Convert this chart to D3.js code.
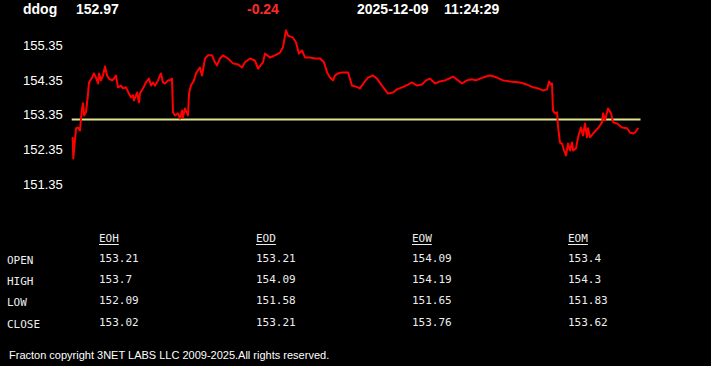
<!DOCTYPE html>
<meta charset="utf-8">
<style>
body { margin: 0; background: #000; }
svg { display: block; background: #000; }
.hdr { font: bold 14px "Liberation Sans", Arial, sans-serif; fill: #fff; }
.yaxis text { font: 13px "Liberation Sans", Arial, sans-serif; fill: #fff; }
.tbl text { font: 11px "DejaVu Sans Mono", "Liberation Mono", monospace; fill: #eee; }
.foot { font: 11px "Liberation Sans", Arial, sans-serif; fill: #fff; }
</style>
<body>
<script src="https://d3js.org/d3.v7.min.js"></script>
<script>
var symbol = 'ddog'
var last = 152.97
var change = -0.24
var stamp = ['2025-12-09', '11:24:29']
var prevClose = 153.21

var yTicks = [155.35, 154.35, 153.35, 152.35, 151.35]

// minutes since open
var mins = [0, 0.4, 1.1, 2.3, 3.6, 5.0, 6.2, 7.1, 7.8, 9.1, 10.3, 11.2, 13.3, 14.6, 16.0, 17.4, 18.1, 19.4, 20.8, 22.2,
    23.6, 24.9, 27.0, 28.4, 29.7, 31.1, 33.2, 34.5, 36.6, 38.6, 40.0, 41.4, 42.1, 44.2, 45.5, 46.2, 48.3, 50.3, 52.4, 53.8,
    55.2, 56.6, 58.6, 60.6, 62.0, 63.4, 65.5, 66.8, 68.2, 68.9, 70.3, 72.3, 73.7, 75.1, 75.7, 77.1, 79.2, 79.9, 81.2, 83.3,
    84.7, 87.4, 88.8, 90.9, 92.9, 95.7, 97.7, 99.1, 101.2, 103.2, 106.7, 110.1, 113.5, 116.3, 118.3, 121.8, 125.2, 127.3, 130.7, 132.1,
    135.5, 138.9, 142.4, 144.4, 146.5, 147.9, 151.3, 153.4, 155.4, 157.5, 159.6, 163.0, 166.4, 169.9, 172.6, 174.7, 176.7, 178.8, 180.2, 182.2,
    185.0, 189.1, 191.8, 194.6, 197.3, 200.1, 202.8, 206.3, 209.0, 212.4, 216.6, 220.0, 222.7, 226.2, 230.3, 233.0, 236.5, 239.9, 242.7, 245.4,
    248.9, 252.3, 255.7, 258.5, 261.2, 264.7, 267.4, 270.8, 274.2, 277.0, 279.8, 283.9, 286.6, 289.4, 291.4, 295.6, 300.4, 307.2, 312.0, 316.2,
    319.6, 323.0, 325.8, 327.2, 328.5, 329.2, 329.9, 331.3, 332.7, 333.3, 334.7, 336.1, 337.5, 338.8, 340.2, 341.6, 343.0, 343.7, 345.7, 347.1,
    349.1, 350.5, 351.9, 353.2, 353.9, 355.3, 357.4, 360.8, 363.6, 364.3, 365.6, 367.7, 369.8, 371.2, 373.9, 377.3, 380.8, 382.8, 384.9, 386.3,
    388.4]
var prices = [152.71, 152.09, 152.41, 152.96, 152.98, 152.90, 153.47, 153.68, 153.33, 153.42, 153.85, 154.28, 154.42, 154.54, 154.42, 154.25, 154.54, 154.34, 154.48, 154.74,
    154.48, 154.39, 154.34, 154.39, 154.48, 154.14, 154.19, 154.11, 154.14, 153.96, 153.85, 153.91, 153.76, 153.99, 153.70, 153.96, 154.11, 154.28, 154.39, 154.19,
    154.28, 154.19, 154.34, 154.54, 154.28, 154.25, 154.34, 154.34, 154.39, 153.42, 153.33, 153.39, 153.24, 153.47, 153.27, 153.53, 153.33, 153.96, 154.19, 154.34,
    154.54, 154.71, 154.48, 154.97, 155.06, 155.06, 154.86, 154.77, 154.97, 155.06, 154.97, 154.83, 154.80, 154.71, 154.86, 154.97, 154.91, 154.68, 154.86, 155.11,
    155.00, 155.06, 155.14, 155.29, 155.78, 155.63, 155.57, 155.43, 155.11, 155.20, 155.00, 155.00, 154.97, 154.97, 154.86, 154.57, 154.42, 154.34, 154.48, 154.54,
    154.57, 154.57, 154.19, 154.16, 154.11, 154.28, 154.42, 154.48, 154.39, 154.19, 153.96, 153.99, 154.08, 154.14, 154.22, 154.28, 154.19, 154.22, 154.34, 154.39,
    154.25, 154.31, 154.34, 154.39, 154.45, 154.34, 154.25, 154.34, 154.37, 154.34, 154.39, 154.45, 154.48, 154.45, 154.42, 154.34, 154.31, 154.28, 154.22, 154.14,
    154.11, 154.05, 154.08, 154.31, 154.22, 154.25, 153.47, 153.39, 153.42, 153.04, 152.55, 152.52, 152.32, 152.18, 152.52, 152.32, 152.55, 152.32, 152.38, 152.70,
    152.98, 152.75, 153.10, 152.70, 152.96, 152.70, 152.81, 152.96, 153.13, 153.39, 153.19, 153.53, 153.39, 153.13, 153.10, 152.98, 152.96, 152.84, 152.81, 152.84,
    152.97]

var periods = ['EOH', 'EOD', 'EOW', 'EOM']
var rowNames = ['OPEN', 'HIGH', 'LOW', 'CLOSE']
var opens = ['153.21', '153.21', '154.09', '153.4']
var highs = ['153.7', '154.09', '154.19', '154.3']
var lows = ['152.09', '151.58', '151.65', '151.83']
var closes = ['153.02', '153.21', '153.76', '153.62']

var footer = 'Fracton copyright 3NET LABS LLC 2009-2025.All rights reserved.'

var width = 711
var height = 366

var svg = d3.select('body').append('svg')
    .attr('width', width)
    .attr('height', height)

// header line
var hdr = svg.append('g').attr('class', 'hdr')
hdr.append('text').attr('x', 23).attr('y', 14).text(symbol)
hdr.append('text').attr('x', 76).attr('y', 14).text(last.toFixed(2))
hdr.append('text').attr('x', 247).attr('y', 14).style('fill', '#ff2a2a').text(change.toFixed(2))
hdr.append('text').attr('x', 357).attr('y', 14).text(stamp[0])
hdr.append('text').attr('x', 444).attr('y', 14).text(stamp[1])

var x = d3.scaleLinear().domain([0, 390]).range([72.7, 640.5])
var y = d3.scaleLinear().domain([151.35, 155.35]).range([184.2, 45.3])

var yAxis = svg.append('g')
    .attr('class', 'yaxis')
    .attr('transform', 'translate(23,0)')
    .call(d3.axisLeft(y).tickValues(yTicks).tickSize(0).tickPadding(0).tickFormat(d3.format('.2f')))
yAxis.select('.domain').remove()
yAxis.selectAll('text').attr('text-anchor', 'start').attr('x', 0)

// previous close reference
svg.append('line')
    .attr('x1', x.range()[0] - 1).attr('x2', x.range()[1])
    .attr('y1', y(prevClose)).attr('y2', y(prevClose))
    .attr('stroke', '#dfe38e')
    .attr('stroke-width', 2)

var line = d3.line()
    .x(function (d, i) { return x(mins[i]) })
    .y(function (d) { return y(d) })

svg.append('path')
    .datum(prices)
    .attr('d', line)
    .attr('fill', 'none')
    .attr('stroke', '#ff0000')
    .attr('stroke-width', 2)
    .attr('stroke-linejoin', 'round')

// OHLC table
var colX = [99, 256, 412, 568]
var rowY = [264, 285, 306, 328]
var rows = [opens, highs, lows, closes]
var tbl = svg.append('g').attr('class', 'tbl')

periods.forEach(function (p, i) {
    tbl.append('text').attr('x', colX[i]).attr('y', 242).text(p)
    tbl.append('line')
        .attr('x1', colX[i]).attr('x2', colX[i] + p.length * 6.62)
        .attr('y1', 244.5).attr('y2', 244.5)
        .attr('stroke', '#eee').attr('stroke-width', 1)
})

rowNames.forEach(function (r, j) {
    tbl.append('text').attr('x', 7).attr('y', rowY[j]).text(r)
    rows[j].forEach(function (v, i) {
        tbl.append('text').attr('x', colX[i]).attr('y', rowY[j] - 2).text(v)
    })
})

svg.append('text')
    .attr('class', 'foot')
    .attr('x', 9).attr('y', 359)
    .text(footer)
</script>
</body>
